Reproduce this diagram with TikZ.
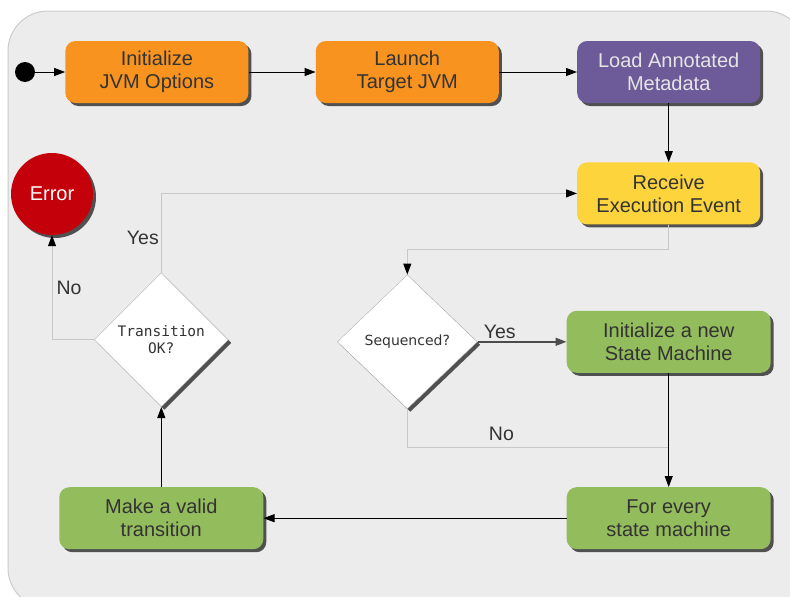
\documentclass[tikz,border=0pt]{standalone}
\usepackage{fontspec}
\setmainfont{Liberation Sans}
\newfontfamily\decisionmono{DejaVu Sans Mono}
\newfontfamily\decisionsans{DejaVu Sans}
\usetikzlibrary{
	shapes.geometric,
	arrows.meta,
	positioning,
	shadows
}
\definecolor{panelgray}{HTML}{ECECEC}
\definecolor{panelline}{HTML}{CCCCCC}
\definecolor{textgray}{HTML}{333333}
\definecolor{shadowgray}{HTML}{505050}
\definecolor{jvmorange}{HTML}{F7931E}
\definecolor{metapurple}{HTML}{6D5A99}
\definecolor{eventyellow}{HTML}{FDD43C}
\definecolor{machinegreen}{HTML}{93BC5C}
\definecolor{errorred}{HTML}{C4000B}
\definecolor{linkgray}{HTML}{C8C8C8}

\begin{document}
\begin{tikzpicture}[
				x=1pt, y=1pt,
				boxshadow/.style={
					drop shadow={shadow xshift=3pt, shadow yshift=-3pt,
						fill=shadowgray, opacity=1}
				},
				stage/.style={
					rectangle, rounded corners=10pt,
					minimum width=183pt, minimum height=62pt,
					inner sep=0pt, align=center, text=textgray,
					font=\fontsize{20}{23}\selectfont, boxshadow
				},
				orangebox/.style={
					stage, fill=jvmorange
				},
				purplebox/.style={
					stage, fill=metapurple, text=white!90!black
				},
				yellowbox/.style={
					stage, fill=eventyellow
				},
				greenbox/.style={
					stage, fill=machinegreen, minimum width=204pt
				},
				decision/.style={
					diamond, draw=black!30, fill=white, inner sep=0pt,
					minimum width=134pt, minimum height=134pt,
					align=center, text=textgray, boxshadow
				},
				branch/.style={
					text=textgray, font=\fontsize{19.5}{22}\selectfont, inner sep=2pt
				},
				arrow/.style={-{Triangle[length=11pt, width=8pt]}, line width=1pt, black},
				graylink/.style={-{Triangle[length=11pt, width=8pt, color=black]},
					line width=1pt, linkgray}
				]
				
				% frame
				\useasboundingbox (0,0) rectangle (790,-597);
				\filldraw[fill=panelgray, draw=panelline, line width=1pt, rounded corners=40pt]
					(8,-11) rectangle (806,-608);
				
				% start
				\node[circle, fill=black, minimum size=20pt, inner sep=0pt] (start) at (25,-72) {};
				
				% JVM
				\node[orangebox, right=30pt of start] (initOptions) {Initialize\\JVM Options};
				\node[orangebox, right=67pt of initOptions] (launchJVM) {Launch\\Target JVM};
				
				% metadata and events
				\node[purplebox, right=78pt of launchJVM] (loadMeta) {Load Annotated\\Metadata};
				\node[yellowbox, below=59pt of loadMeta] (receiveEvent) {Receive\\Execution Event};
				
				% state machines
				\node[greenbox, below=86pt of receiveEvent] (newMachine) {Initialize a new\\State Machine};
				\node[greenbox, below=114pt of newMachine] (everyMachine) {For every\\state machine};
				\node[greenbox, left=303pt of everyMachine] (validTransition) {Make a valid\\transition};
				
				% decisions
				\node[decision, minimum width=140pt, font=\decisionsans\fontsize{14}{17}\selectfont,
					left=89pt of newMachine] (sequenced) {Sequenced?};
				\node[decision, font=\decisionmono\fontsize{14.5}{17}\selectfont,
					above=80pt of validTransition] (transitionOK) {Transition\\OK?};
				
				% error
				\node[circle, fill=errorred, minimum size=82pt, inner sep=0pt, text=white,
					font=\fontsize{20}{23}\selectfont, boxshadow] (error) at (52,-194) {Error};
				
				% join point of the No branch
				\path (newMachine.south) -- coordinate[pos=0.65] (noJoin) (everyMachine.north);
				
				% arrows
				\draw[arrow] (start) -- (initOptions);
				\draw[arrow] (initOptions) -- (launchJVM);
				\draw[arrow] (launchJVM) -- (loadMeta);
				\draw[arrow] (loadMeta) -- (receiveEvent);
				\draw[graylink] (receiveEvent.south) -- ++(0,-25) -| (sequenced.north);
				\draw[arrow, line width=1.5pt, black!70] (sequenced.east) -- node[branch, above, pos=0.25] {Yes} (newMachine.west);
				\draw[graylink, -] (sequenced.south) |- node[branch, above, pos=0.68, yshift=4pt] {No} (noJoin);
				\draw[arrow] (newMachine) -- (everyMachine);
				\draw[arrow] (everyMachine) -- (validTransition);
				\draw[arrow] (validTransition) -- (transitionOK);
				\draw[graylink] (transitionOK.north) |- node[branch, left, pos=0.22] {Yes} (receiveEvent.west);
				\draw[graylink] (transitionOK.west) -| node[branch, right, pos=0.75, xshift=2pt] {No} (error.south);
			\end{tikzpicture}
\end{document}
